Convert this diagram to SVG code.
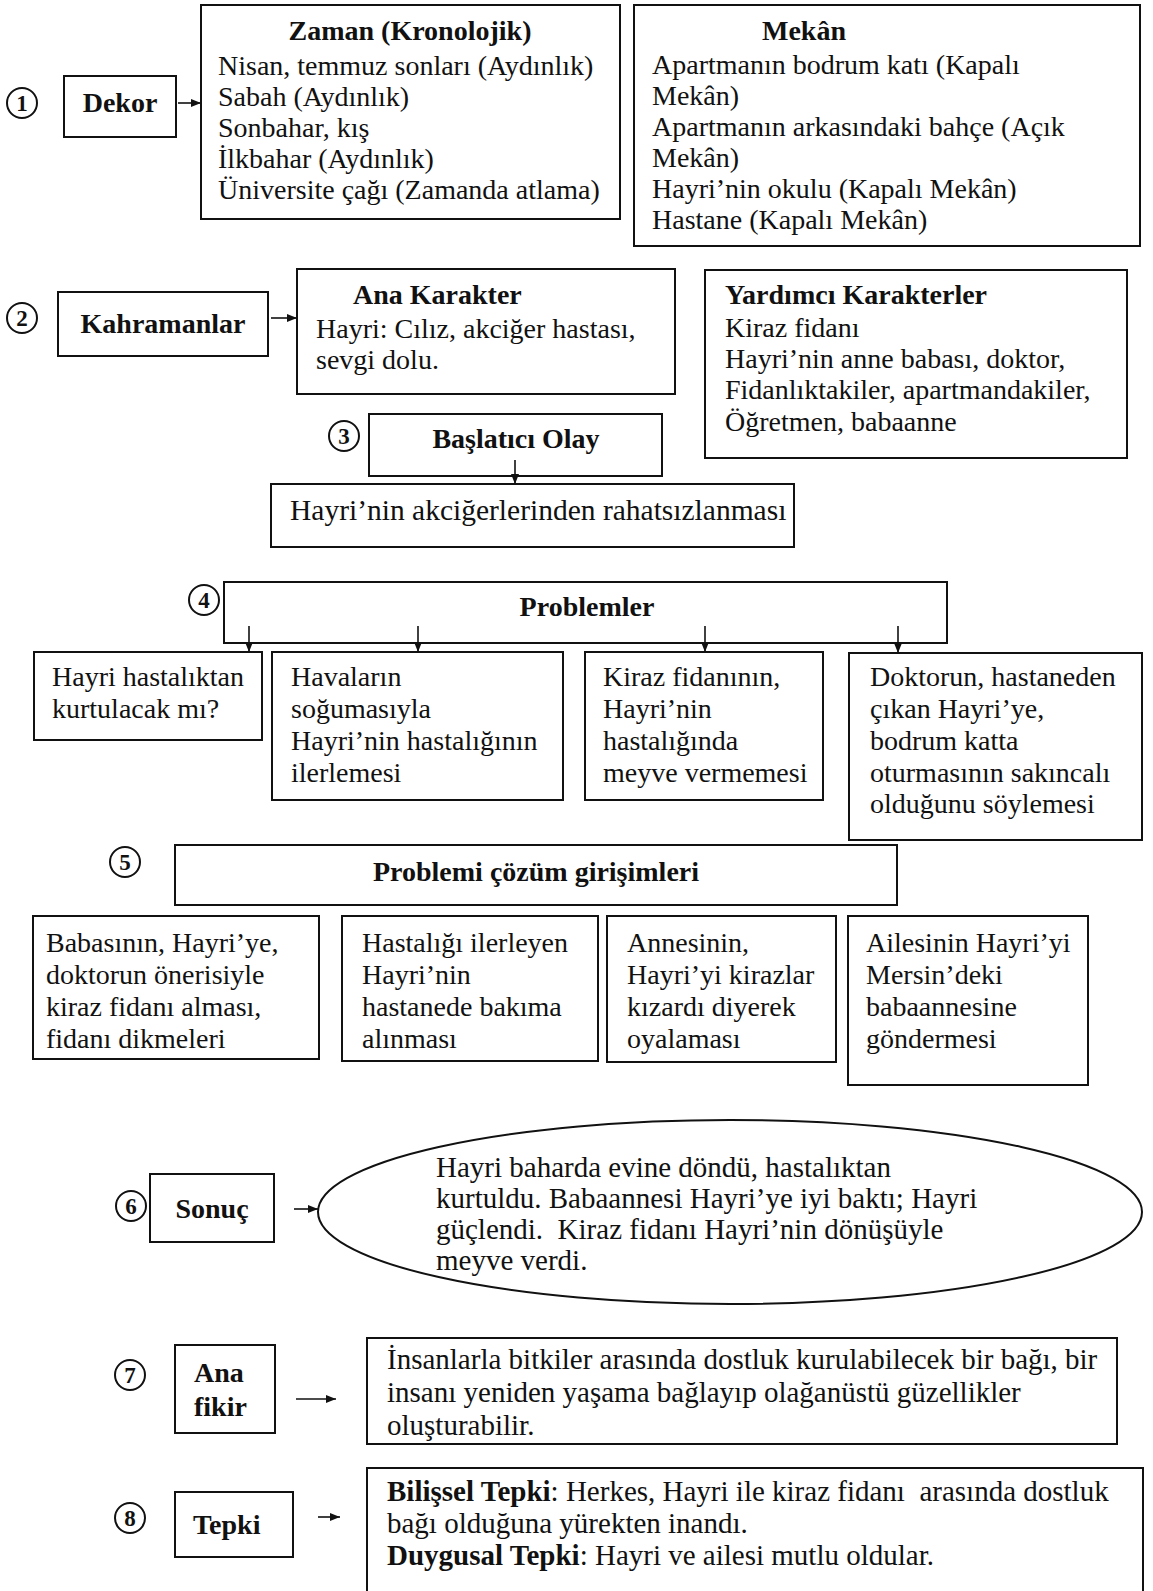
<svg xmlns="http://www.w3.org/2000/svg" width="1153" height="1591" viewBox="0 0 1153 1591">
  <defs>
    <marker id="ah" markerWidth="10" markerHeight="8" refX="10" refY="4" orient="auto" markerUnits="userSpaceOnUse">
      <path d="M0,0 L10,4 L0,8 z" fill="#111"/>
    </marker>
    <style>
      .box{fill:none;stroke:#111;stroke-width:2}
      .num{fill:none;stroke:#111;stroke-width:2}
      .t{font-family:"Liberation Serif","Times New Roman",serif;font-size:28px;fill:#111}
      .s{font-size:29px}
      .b{font-weight:bold}
      .c{text-anchor:middle}
      .n{font-family:"Liberation Serif","Times New Roman",serif;font-size:23px;font-weight:bold;fill:#111;text-anchor:middle}
      .con{stroke:#111;stroke-width:1.6;fill:none}
    </style>
  </defs>
  <rect width="1153" height="1591" fill="#fff"/>

  <!-- 1: Dekor -->
  <g id="n1-num"><circle class="num" cx="22" cy="103" r="15"/><text class="n" x="22" y="111">1</text></g>
  <g id="dekor"><rect class="box" x="64" y="76" width="112" height="61"/><text class="t b c" x="120" y="112">Dekor</text></g>
  <g id="zaman">
    <rect class="box" x="201" y="5" width="419" height="214"/>
    <text class="t b c" x="410" y="40">Zaman (Kronolojik)</text>
    <text class="t" x="218" y="75">Nisan, temmuz sonları (Aydınlık)</text>
    <text class="t" x="218" y="106">Sabah (Aydınlık)</text>
    <text class="t" x="218" y="137">Sonbahar, kış</text>
    <text class="t" x="218" y="168">İlkbahar (Aydınlık)</text>
    <text class="t" x="218" y="199">Üniversite çağı (Zamanda atlama)</text>
  </g>
  <g id="mekan">
    <rect class="box" x="634" y="5" width="506" height="241"/>
    <text class="t b" x="762" y="40">Mekân</text>
    <text class="t" x="652" y="74">Apartmanın bodrum katı (Kapalı</text>
    <text class="t" x="652" y="105">Mekân)</text>
    <text class="t" x="652" y="136">Apartmanın arkasındaki bahçe (Açık</text>
    <text class="t" x="652" y="167">Mekân)</text>
    <text class="t" x="652" y="198">Hayri’nin okulu (Kapalı Mekân)</text>
    <text class="t" x="652" y="229">Hastane (Kapalı Mekân)</text>
  </g>

  <!-- 2: Kahramanlar -->
  <g id="n2-num"><circle class="num" cx="22" cy="318" r="15"/><text class="n" x="22" y="326">2</text></g>
  <g id="kahramanlar"><rect class="box" x="58" y="292" width="210" height="64"/><text class="t b c" x="163" y="333">Kahramanlar</text></g>
  <g id="ana-karakter">
    <rect class="box" x="297" y="269" width="378" height="125"/>
    <text class="t b" x="353" y="304">Ana Karakter</text>
    <text class="t" x="316" y="338">Hayri: Cılız, akciğer hastası,</text>
    <text class="t" x="316" y="369">sevgi dolu.</text>
  </g>
  <g id="yardimci">
    <rect class="box" x="705" y="270" width="422" height="188"/>
    <text class="t b" x="725" y="304">Yardımcı Karakterler</text>
    <text class="t" x="725" y="337">Kiraz fidanı</text>
    <text class="t" x="725" y="368">Hayri’nin anne babası, doktor,</text>
    <text class="t" x="725" y="399">Fidanlıktakiler, apartmandakiler,</text>
    <text class="t" x="725" y="431">Öğretmen, babaanne</text>
  </g>

  <!-- 3: Başlatıcı Olay -->
  <g id="n3-num"><circle class="num" cx="344" cy="436" r="15"/><text class="n" x="344" y="444">3</text></g>
  <g id="baslatici"><rect class="box" x="369" y="414" width="293" height="62"/><text class="t b c" x="516" y="448">Başlatıcı Olay</text></g>
  <g id="olay"><rect class="box" x="271" y="484" width="523" height="63"/><text class="t" x="290" y="520" style="font-size:29.5px">Hayri’nin akciğerlerinden rahatsızlanması</text></g>

  <!-- 4: Problemler -->
  <g id="n4-num"><circle class="num" cx="204" cy="600" r="15"/><text class="n" x="204" y="608">4</text></g>
  <g id="problemler"><rect class="box" x="224" y="582" width="723" height="61"/><text class="t b c" x="587" y="616">Problemler</text></g>
  <g id="p1">
    <rect class="box" x="34" y="652" width="228" height="88"/>
    <text class="t" x="52" y="686">Hayri hastalıktan</text>
    <text class="t" x="52" y="718">kurtulacak mı?</text>
  </g>
  <g id="p2">
    <rect class="box" x="272" y="652" width="291" height="148"/>
    <text class="t" x="291" y="686">Havaların</text>
    <text class="t" x="291" y="718">soğumasıyla</text>
    <text class="t" x="291" y="750">Hayri’nin hastalığının</text>
    <text class="t" x="291" y="782">ilerlemesi</text>
  </g>
  <g id="p3">
    <rect class="box" x="585" y="652" width="238" height="148"/>
    <text class="t" x="603" y="686">Kiraz fidanının,</text>
    <text class="t" x="603" y="718">Hayri’nin</text>
    <text class="t" x="603" y="750">hastalığında</text>
    <text class="t" x="603" y="782">meyve vermemesi</text>
  </g>
  <g id="p4">
    <rect class="box" x="849" y="653" width="293" height="187"/>
    <text class="t" x="870" y="686">Doktorun, hastaneden</text>
    <text class="t" x="870" y="718">çıkan Hayri’ye,</text>
    <text class="t" x="870" y="750">bodrum katta</text>
    <text class="t" x="870" y="782">oturmasının sakıncalı</text>
    <text class="t" x="870" y="813">olduğunu söylemesi</text>
  </g>

  <!-- 5: Problemi çözüm girişimleri -->
  <g id="n5-num"><circle class="num" cx="125" cy="862" r="15"/><text class="n" x="125" y="870">5</text></g>
  <g id="cozum"><rect class="box" x="175" y="845" width="722" height="60"/><text class="t b c" x="536" y="881">Problemi çözüm girişimleri</text></g>
  <g id="c1">
    <rect class="box" x="33" y="916" width="286" height="143"/>
    <text class="t" x="46" y="952">Babasının, Hayri’ye,</text>
    <text class="t" x="46" y="984">doktorun önerisiyle</text>
    <text class="t" x="46" y="1016">kiraz fidanı alması,</text>
    <text class="t" x="46" y="1048">fidanı dikmeleri</text>
  </g>
  <g id="c2">
    <rect class="box" x="342" y="916" width="256" height="145"/>
    <text class="t" x="362" y="952">Hastalığı ilerleyen</text>
    <text class="t" x="362" y="984">Hayri’nin</text>
    <text class="t" x="362" y="1016">hastanede bakıma</text>
    <text class="t" x="362" y="1048">alınması</text>
  </g>
  <g id="c3">
    <rect class="box" x="607" y="916" width="229" height="146"/>
    <text class="t" x="627" y="952">Annesinin,</text>
    <text class="t" x="627" y="984">Hayri’yi kirazlar</text>
    <text class="t" x="627" y="1016">kızardı diyerek</text>
    <text class="t" x="627" y="1048">oyalaması</text>
  </g>
  <g id="c4">
    <rect class="box" x="848" y="916" width="240" height="169"/>
    <text class="t" x="866" y="952">Ailesinin Hayri’yi</text>
    <text class="t" x="866" y="984">Mersin’deki</text>
    <text class="t" x="866" y="1016">babaannesine</text>
    <text class="t" x="866" y="1048">göndermesi</text>
  </g>

  <!-- 6: Sonuç -->
  <g id="n6-num"><circle class="num" cx="131" cy="1206" r="15"/><text class="n" x="131" y="1214">6</text></g>
  <g id="sonuc"><rect class="box" x="150" y="1174" width="124" height="68"/><text class="t b c" x="212" y="1218">Sonuç</text></g>
  <g id="sonuc-text">
    <ellipse class="box" cx="730" cy="1212" rx="412" ry="92"/>
    <text class="t s" x="436" y="1177">Hayri baharda evine döndü, hastalıktan</text>
    <text class="t s" x="436" y="1208">kurtuldu. Babaannesi Hayri’ye iyi baktı; Hayri</text>
    <text class="t s" x="436" y="1239">güçlendi.&#160; Kiraz fidanı Hayri’nin dönüşüyle</text>
    <text class="t s" x="436" y="1270">meyve verdi.</text>
  </g>

  <!-- 7: Ana fikir -->
  <g id="n7-num"><circle class="num" cx="130" cy="1375" r="15"/><text class="n" x="130" y="1383">7</text></g>
  <g id="ana-fikir">
    <rect class="box" x="175" y="1345" width="100" height="88"/>
    <text class="t b" x="194" y="1382">Ana</text>
    <text class="t b" x="194" y="1416">fikir</text>
  </g>
  <g id="fikir-text">
    <rect class="box" x="367" y="1338" width="750" height="106"/>
    <text class="t s" x="387" y="1369">İnsanlarla bitkiler arasında dostluk kurulabilecek bir bağı, bir</text>
    <text class="t s" x="387" y="1402">insanı yeniden yaşama bağlayıp olağanüstü güzellikler</text>
    <text class="t s" x="387" y="1435">oluşturabilir.</text>
  </g>

  <!-- 8: Tepki -->
  <g id="n8-num"><circle class="num" cx="130" cy="1518" r="15"/><text class="n" x="130" y="1526">8</text></g>
  <g id="tepki"><rect class="box" x="175" y="1492" width="118" height="65"/><text class="t b" x="193" y="1534">Tepki</text></g>
  <g id="tepki-text">
    <rect class="box" x="367" y="1468" width="776" height="140"/>
    <text class="t s" x="387" y="1501"><tspan class="b">Bilişsel Tepki</tspan>: Herkes, Hayri ile kiraz fidanı&#160; arasında dostluk</text>
    <text class="t s" x="387" y="1533">bağı olduğuna yürekten inandı.</text>
    <text class="t s" x="387" y="1565"><tspan class="b">Duygusal Tepki</tspan>: Hayri ve ailesi mutlu oldular.</text>
  </g>

  <!-- connectors -->
  <g id="connectors">
    <line class="con" x1="178" y1="103" x2="201" y2="103" marker-end="url(#ah)"/>
    <line class="con" x1="271" y1="318" x2="297" y2="318" marker-end="url(#ah)"/>
    <line class="con" x1="515" y1="460" x2="515" y2="484" marker-end="url(#ah)"/>
    <line class="con" x1="249" y1="626" x2="249" y2="652" marker-end="url(#ah)"/>
    <line class="con" x1="418" y1="626" x2="418" y2="652" marker-end="url(#ah)"/>
    <line class="con" x1="705" y1="626" x2="705" y2="652" marker-end="url(#ah)"/>
    <line class="con" x1="898" y1="626" x2="898" y2="653" marker-end="url(#ah)"/>
    <line class="con" x1="294" y1="1209" x2="318" y2="1209" marker-end="url(#ah)"/>
    <line class="con" x1="296" y1="1399" x2="336" y2="1399" marker-end="url(#ah)"/>
    <line class="con" x1="318" y1="1517" x2="340" y2="1517" marker-end="url(#ah)"/>
  </g>
</svg>
